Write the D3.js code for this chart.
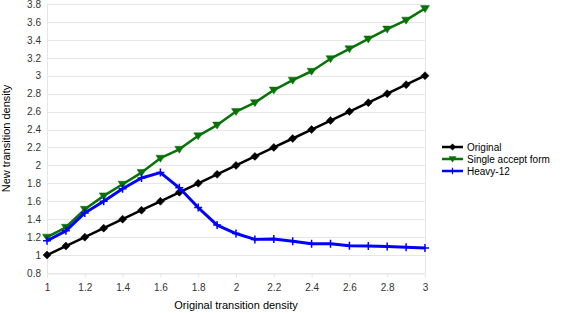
<!DOCTYPE html>
<html>
<head>
<meta charset="utf-8">
<script src="https://cdn.jsdelivr.net/npm/d3@7"></script>
<style>
  body { margin: 0; background: #fff; }
  svg { font-family: "Liberation Sans", Arial, sans-serif; }
</style>
</head>
<body>
<svg id="chart" width="567" height="313"></svg>
<script>
// chart data
var xs = [1, 1.1, 1.2, 1.3, 1.4, 1.5, 1.6, 1.7, 1.8, 1.9, 2, 2.1, 2.2, 2.3, 2.4, 2.5, 2.6, 2.7, 2.8, 2.9, 3];
var original = [1, 1.1, 1.2, 1.3, 1.4, 1.5, 1.6, 1.7, 1.8, 1.9, 2, 2.1, 2.2, 2.3, 2.4, 2.5, 2.6, 2.7, 2.8, 2.9, 3];
var singleAccept = [1.2, 1.31, 1.51, 1.66, 1.79, 1.92, 2.08, 2.18, 2.33, 2.45, 2.6, 2.7, 2.84, 2.95, 3.05, 3.19, 3.3, 3.41, 3.52, 3.62, 3.75];
var heavy12 = [1.16, 1.27, 1.47, 1.6, 1.74, 1.86, 1.92, 1.75, 1.53, 1.335, 1.24, 1.175, 1.18, 1.155, 1.127, 1.127, 1.105, 1.1, 1.095, 1.087, 1.08];
var xTicks = [1, 1.2, 1.4, 1.6, 1.8, 2, 2.2, 2.4, 2.6, 2.8, 3];
var yTicks = [0.8, 1, 1.2, 1.4, 1.6, 1.8, 2, 2.2, 2.4, 2.6, 2.8, 3, 3.2, 3.4, 3.6, 3.8];
var seriesNames = ["Original", "Single accept form", "Heavy-12"];

var series = [
  {name: seriesNames[0], values: original, color: "#000000", marker: "diamond"},
  {name: seriesNames[1], values: singleAccept, color: "#077207", marker: "triangle"},
  {name: seriesNames[2], values: heavy12, color: "#0000ff", marker: "plus"}
];

var svg = d3.select("#chart");
var plotLeft = 47, plotRight = 425, plotTop = 4, plotBottom = 273;

var x = d3.scaleLinear().domain([1, 3]).range([plotLeft, plotRight]);
var y = d3.scaleLinear().domain([0.8, 3.8]).range([plotBottom, plotTop]);

// horizontal grid
svg.append("g")
  .selectAll("line")
  .data(yTicks)
  .enter()
  .append("line")
    .attr("x1", plotLeft)
    .attr("x2", plotRight)
    .attr("y1", function(d){ return Math.round(y(d)) + 0.5; })
    .attr("y2", function(d){ return Math.round(y(d)) + 0.5; })
    .attr("stroke", "#e6e6e6")
    .attr("stroke-width", 1);

// left and right borders
svg.append("g")
  .selectAll("line")
  .data([1, 3])
  .enter()
  .append("line")
    .attr("x1", function(d){ return Math.round(x(d)) + 0.5; })
    .attr("x2", function(d){ return Math.round(x(d)) + 0.5; })
    .attr("y1", plotTop)
    .attr("y2", plotBottom)
    .attr("stroke", "#e6e6e6");

// x axis
var xAxis = svg.append("g")
  .attr("transform", "translate(0," + (Math.round(plotBottom) + 0.5) + ")")
  .call(d3.axisBottom(x).tickValues(xTicks).tickSize(4).tickPadding(6)
        .tickFormat(function(d){ return d3.format("")(+d.toFixed(1)); }));
xAxis.select(".domain").attr("stroke", "#e6e6e6");
xAxis.selectAll(".tick line").attr("stroke", "#e6e6e6");
xAxis.selectAll("text").attr("fill", "#333").style("font-size", "10px");

// y axis
var yAxis = svg.append("g")
  .attr("transform", "translate(" + (plotLeft - 2) + ",0)")
  .call(d3.axisLeft(y).tickValues(yTicks).tickSize(0).tickPadding(4)
        .tickFormat(function(d){ return d3.format("")(+d.toFixed(1)); }));
yAxis.select(".domain").remove();
yAxis.selectAll("text").attr("fill", "#333").style("font-size", "10px");

// axis titles
svg.append("text")
  .attr("x", (plotLeft + plotRight) / 2)
  .attr("y", 309)
  .attr("text-anchor", "middle")
  .style("font-size", "11px")
  .text("Original transition density");

svg.append("text")
  .attr("transform", "translate(10," + ((plotTop + plotBottom) / 2) + ") rotate(-90)")
  .attr("text-anchor", "middle")
  .style("font-size", "11px")
  .text("New transition density");

function markerPath(type) {
  if (type === "diamond") return "M0,-4L4,0L0,4L-4,0Z";
  if (type === "triangle") return "M-4.5,-3L4.5,-3L0,4Z";
  return "M-4,0L4,0M0,-4L0,4";
}

var line = d3.line()
  .x(function(d){ return x(d[0]); })
  .y(function(d){ return y(d[1]); });

series.forEach(function(s) {
  var pts = xs.map(function(v, i){ return [v, s.values[i]]; });
  var g = svg.append("g");
  g.append("path")
    .datum(pts)
    .attr("d", line)
    .attr("fill", "none")
    .attr("stroke", s.color)
    .attr("stroke-width", s.marker === "plus" ? 3 : 2.5)
    .attr("stroke-linejoin", "round");
  g.selectAll("path.m")
    .data(pts)
    .enter()
    .append("path")
      .attr("class", "m")
      .attr("transform", function(d){ return "translate(" + x(d[0]) + "," + y(d[1]) + ")"; })
      .attr("d", markerPath(s.marker))
      .attr("fill", s.color)
      .attr("stroke", s.color)
      .attr("stroke-width", s.marker === "plus" ? 1.5 : 0.5);
});

// legend
var legend = svg.append("g").attr("transform", "translate(442,147)");
series.forEach(function(s, i) {
  var row = legend.append("g").attr("transform", "translate(0," + (i * 12) + ")");
  row.append("line")
    .attr("x1", 0).attr("x2", 21)
    .attr("stroke", s.color)
    .attr("stroke-width", 2.5);
  row.append("path")
    .attr("transform", "translate(10.5,0) scale(0.8)")
    .attr("d", markerPath(s.marker))
    .attr("fill", s.color)
    .attr("stroke", s.color)
    .attr("stroke-width", s.marker === "plus" ? 1.5 : 0.5);
  row.append("text")
    .attr("x", 25)
    .attr("y", 3.5)
    .style("font-size", "10px")
    .text(s.name);
});
</script>
</body>
</html>
